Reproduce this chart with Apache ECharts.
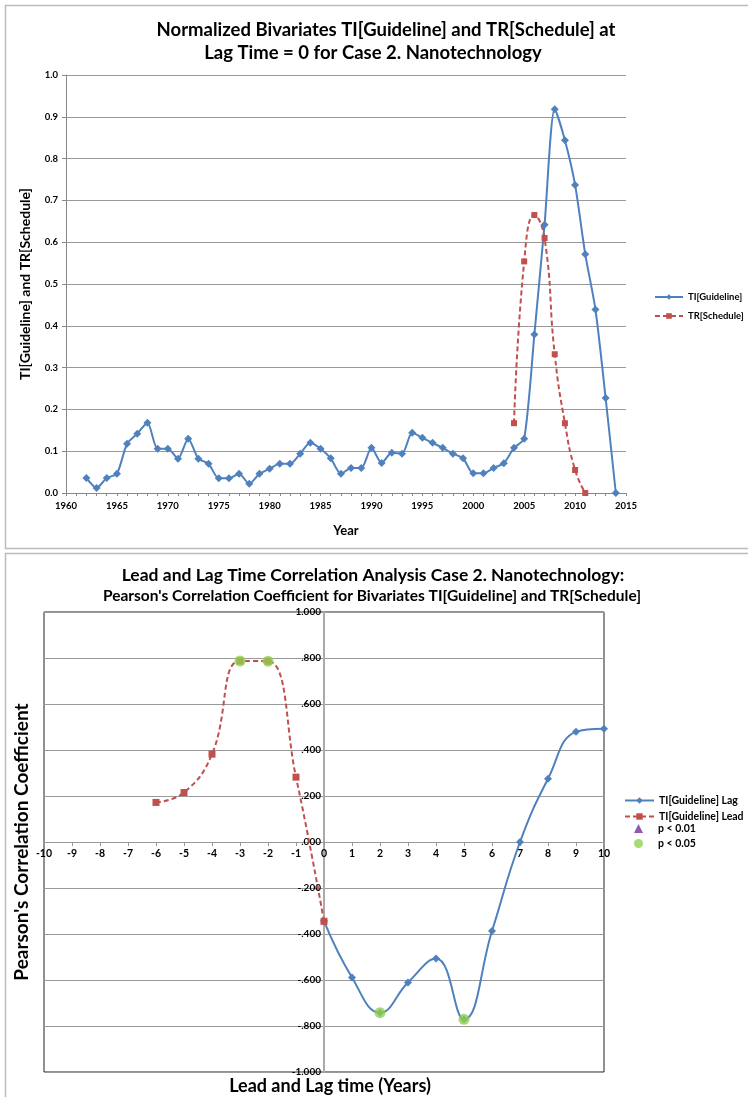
<!DOCTYPE html>
<html><head><meta charset="utf-8">
<script src="https://cdn.jsdelivr.net/npm/echarts@6/dist/echarts.min.js"></script>
<style>html,body{margin:0;padding:0;background:#fff;}#c{width:748px;height:1097px;}</style>
</head><body><div id="c"></div>
<script>
// ---- Top chart data ----
const years = [1962,1963,1964,1965,1966,1967,1968,1969,1970,1971,1972,1973,1974,1975,1976,1977,1978,1979,1980,1981,1982,1983,1984,1985,1986,1987,1988,1989,1990,1991,1992,1993,1994,1995,1996,1997,1998,1999,2000,2001,2002,2003,2004,2005,2006,2007,2008,2009,2010,2011,2012,2013,2014];
const tiGuideline = [0.036,0.012,0.036,0.046,0.118,0.142,0.168,0.106,0.106,0.082,0.130,0.082,0.070,0.035,0.035,0.046,0.022,0.046,0.058,0.070,0.070,0.094,0.120,0.106,0.083,0.046,0.060,0.060,0.108,0.072,0.096,0.094,0.144,0.132,0.120,0.108,0.094,0.083,0.047,0.047,0.060,0.071,0.108,0.130,0.379,0.642,0.918,0.844,0.737,0.571,0.439,0.227,0.000];
const trYears = [2004,2005,2006,2007,2008,2009,2010,2011];
const trSchedule = [0.167,0.554,0.665,0.610,0.332,0.167,0.055,0.000];

// ---- Bottom chart data ----
const lagX = [0,1,2,3,4,5,6,7,8,9,10];
const lagR = [-0.344,-0.589,-0.742,-0.611,-0.507,-0.771,-0.387,0.000,0.275,0.479,0.492];
const leadX = [-6,-5,-4,-3,-2,-1,0];
const leadR = [0.172,0.215,0.382,0.787,0.786,0.282,-0.345];
const p05X = [-3,-2,2,5];
const p05R = [0.787,0.786,-0.742,-0.771];
const p01X = [];
const p01R = [];

const BLUE='#4F81BD', RED='#C0504D', GREEN='#92D050', PURPLE='#7030A0';
const FF = 'Lato, "Liberation Sans", sans-serif';
const zip=(a,b)=>a.map((v,i)=>[v,b[i]]);

const chart = echarts.init(document.getElementById('c'), null, {renderer:'canvas'});
const boldTxt = (size)=>({fontFamily:FF, fontWeight:'bold', fontSize:size, color:'#000'});

chart.setOption({
  animation:false,
  textStyle:{fontFamily:FF},
  title:[
    {text:'Normalized Bivariates TI[Guideline] and TR[Schedule] at',
     left:381, top:16, textAlign:'center', textStyle:boldTxt(18.5)},
    {text:'Lag Time = 0 for Case 2. Nanotechnology',
     left:368, top:39, textAlign:'center', textStyle:boldTxt(18.5)},
    {text:'Lead and Lag Time Correlation Analysis Case 2. Nanotechnology:',
     left:368, top:561, textAlign:'center', textStyle:boldTxt(17.5)},
    {text:"Pearson's Correlation Coefficient for Bivariates TI[Guideline] and TR[Schedule]",
     left:367, top:583, textAlign:'center', textStyle:boldTxt(15.5)}
  ],
  graphic:[
    {type:'rect', shape:{x:5.5,y:5.5,width:760,height:543}, style:{fill:'none',stroke:'#bbb',lineWidth:1.5}, silent:true, z:-10},
    {type:'rect', shape:{x:5.5,y:553.5,width:760,height:560}, style:{fill:'none',stroke:'#bbb',lineWidth:1.5}, silent:true, z:-10},
    {type:'text', x:22, y:842, rotation:Math.PI/2,
     style:{text:"Pearson's Correlation Coefficient", font:'bold 19px '+FF, fill:'#000', align:'center', verticalAlign:'middle'}},
    {type:'text', x:330, y:1086,
     style:{text:'Lead and Lag time (Years)', font:'bold 18px '+FF, fill:'#000', align:'center', verticalAlign:'middle'}}
  ],
  legend:[
    {orient:'vertical', left:654, top:292, padding:0, itemWidth:28, itemHeight:7, itemGap:9,
     data:['TI[Guideline]','TR[Schedule]'], textStyle:boldTxt(9.5)},
    {orient:'vertical', left:624, top:795, padding:0, itemWidth:29, itemHeight:8, itemGap:5,
     data:['TI[Guideline] Lag','TI[Guideline] Lead'], textStyle:boldTxt(10.5)},
    {orient:'vertical', left:634, top:823, padding:0, itemWidth:9, itemHeight:9, itemGap:4,
     data:['p < 0.01','p < 0.05'], textStyle:Object.assign(boldTxt(10.5),{padding:[0,0,0,10]})}
  ],
  grid:[
    {left:66, top:75, width:560, height:418, show:false},
    {left:44, top:612, width:560, height:460, show:true, borderColor:'#222', borderWidth:1}
  ],
  xAxis:[
    {type:'value', gridIndex:0, min:1960, max:2015, interval:5,
     name:'Year', nameLocation:'middle', nameGap:31, nameTextStyle:boldTxt(13),
     axisLine:{lineStyle:{color:'#888'}},
     axisTick:{show:true, length:3, lineStyle:{color:'#888'}},
     minorTick:{show:true, splitNumber:5, length:3, lineStyle:{color:'#888'}},
     axisLabel:Object.assign(boldTxt(9.5),{margin:8, formatter:v=>String(v)}),
     splitLine:{show:false}},
    {type:'value', gridIndex:1, min:-10, max:10, interval:1,
     position:'bottom', offset:-230,
     axisLine:{onZero:false, lineStyle:{color:'#999'}},
     axisTick:{show:true, length:4, lineStyle:{color:'#999'}},
     axisLabel:Object.assign(boldTxt(10.5),{margin:6}),
     splitLine:{show:false}}
  ],
  yAxis:[
    {type:'value', gridIndex:0, min:0, max:1, interval:0.1,
     name:'TI[Guideline] and TR[Schedule]', nameLocation:'middle', nameGap:34, nameTextStyle:boldTxt(14),
     axisLine:{show:true, lineStyle:{color:'#888'}},
     axisTick:{show:true, length:4, lineStyle:{color:'#888'}},
     axisLabel:Object.assign(boldTxt(9.5),{formatter:v=>v.toFixed(1), margin:8}),
     splitLine:{show:true, lineStyle:{color:'#999'}}},
    {type:'value', gridIndex:1, min:-1, max:1, interval:0.2,
     position:'left', offset:-280,
     axisLine:{show:true, onZero:false, lineStyle:{color:'#aaa', width:2}},
     axisTick:{show:false},
     axisLabel:Object.assign(boldTxt(10),{margin:3, formatter:v=>{let s=Math.abs(v).toFixed(3); if(s[0]==='0') s=s.slice(1); return (v<-1e-9?'-':'')+s;}}),
     splitLine:{show:true, lineStyle:{color:'#999'}}}
  ],
  series:[
    {name:'TI[Guideline]', type:'line', xAxisIndex:0, yAxisIndex:0, data:zip(years,tiGuideline),
     smooth:0.25, symbol:'diamond', symbolSize:8, itemStyle:{color:BLUE},
     lineStyle:{color:BLUE, width:2}},
    {name:'TR[Schedule]', type:'line', xAxisIndex:0, yAxisIndex:0, data:zip(trYears,trSchedule),
     smooth:0.5, symbol:'rect', symbolSize:6, itemStyle:{color:RED},
     lineStyle:{color:RED, width:2, type:[5,3]}},
    {name:'TI[Guideline] Lag', type:'line', xAxisIndex:1, yAxisIndex:1, data:zip(lagX,lagR),
     smooth:0.45, symbol:'diamond', symbolSize:8, itemStyle:{color:BLUE},
     lineStyle:{color:BLUE, width:2}},
    {name:'TI[Guideline] Lead', type:'line', xAxisIndex:1, yAxisIndex:1, data:zip(leadX,leadR),
     smooth:0.45, symbol:'rect', symbolSize:7, itemStyle:{color:RED},
     lineStyle:{color:RED, width:2, type:[5,3]}},
    {name:'p < 0.01', type:'scatter', xAxisIndex:1, yAxisIndex:1, data:zip(p01X,p01R),
     symbol:'triangle', symbolSize:9, itemStyle:{color:PURPLE}},
    {name:'p < 0.05', type:'scatter', xAxisIndex:1, yAxisIndex:1, data:zip(p05X,p05R),
     symbol:'circle', symbolSize:11, itemStyle:{color:GREEN}, z:5}
  ]
});
</script></body></html>
